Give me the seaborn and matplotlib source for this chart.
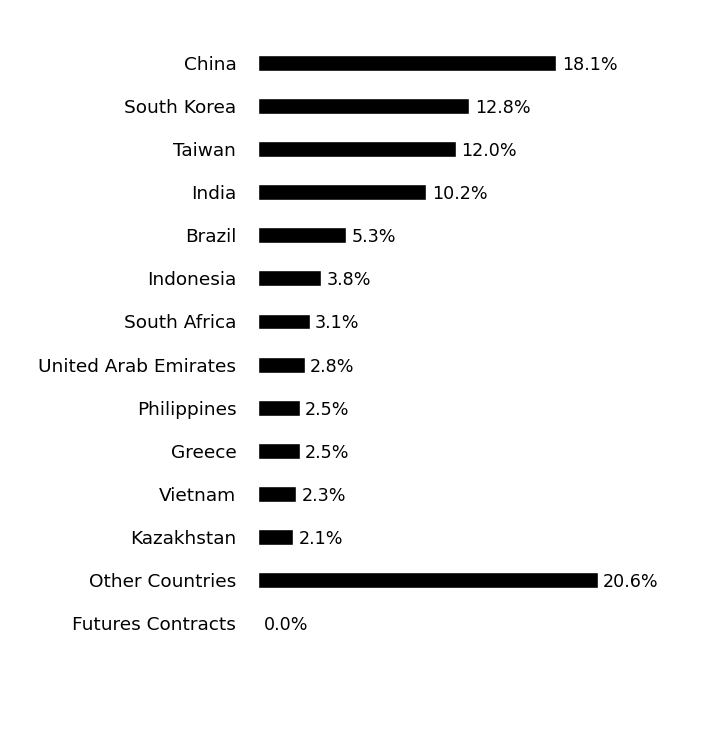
import pandas as pd
import matplotlib
matplotlib.use("Agg")
import matplotlib.pyplot as plt
import seaborn as sns

countries = ["China", "South Korea", "Taiwan", "India", "Brazil", "Indonesia",
             "South Africa", "United Arab Emirates", "Philippines", "Greece",
             "Vietnam", "Kazakhstan", "Other Countries", "Futures Contracts"]
weights = [18.1, 12.8, 12.0, 10.2, 5.3, 3.8, 3.1, 2.8, 2.5, 2.5, 2.3, 2.1, 20.6, 0.0]

df = pd.DataFrame({"Country": countries, "Weight": weights})

sns.set_style("white")
plt.rcParams["font.family"] = ["DejaVu Sans"]

fig = plt.figure(figsize=(7.08, 7.32), dpi=100)
ax = fig.add_axes([0.3651, 0.1195, 0.62, 0.8238])
sns.barplot(data=df, x="Weight", y="Country", color="black", width=0.37,
            saturation=1, ax=ax)

ax.set_xlim(0, 26.67)
ax.set_ylim(13.5, -0.5)
texts = ax.bar_label(ax.containers[0], labels=[f"{v:.1f}%" for v in weights],
                     padding=4, fontsize=12.6, color="black")
for t in texts:
    # nudge value labels down a touch so they sit on the bar centre
    t.set_verticalalignment("center_baseline")
ax.set_xlabel("")
ax.set_ylabel("")
ax.set_xticks([])
ax.tick_params(axis="y", length=0, pad=16, labelsize=13.3, labelcolor="black")
sns.despine(ax=ax, left=True, bottom=True)

fig.savefig("out.png", dpi=100)
